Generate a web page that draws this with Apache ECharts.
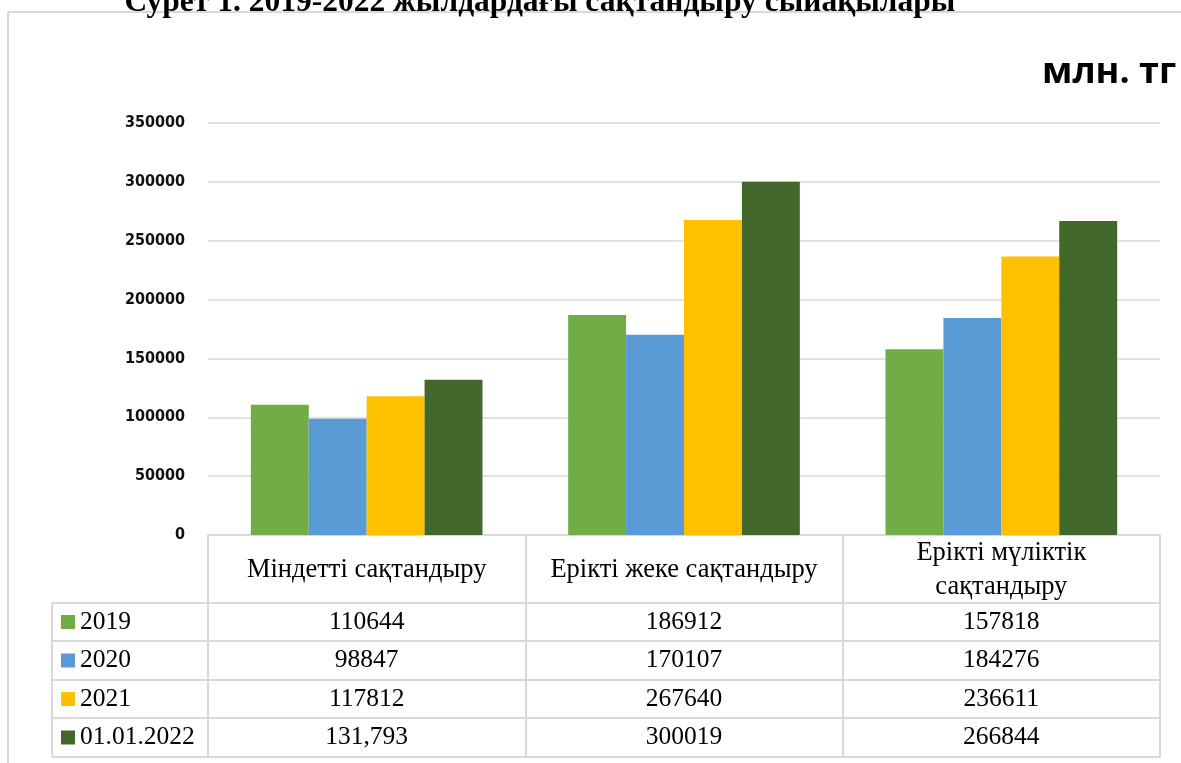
<!DOCTYPE html>
<html><head><meta charset="utf-8">
<script src="https://cdn.jsdelivr.net/npm/echarts@6/dist/echarts.min.js"></script>
<style>html,body{margin:0;padding:0;background:#fff}#c{width:1181px;height:763px}</style>
</head><body><div id="c"></div>
<script>
// ---- data ----
const categories = ['Міндетті сақтандыру', 'Ерікті жеке сақтандыру', 'Ерікті мүліктік сақтандыру'];
const seriesNames = ['2019', '2020', '2021', '01.01.2022'];
const v2019 = [110644, 186912, 157818];
const v2020 = [98847, 170107, 184276];
const v2021 = [117812, 267640, 236611];
const v2022 = [131793, 300019, 266844];
const yMin = 0, yMax = 350000, yStep = 50000;
// cells printed with a thousands separator in the source table [row, col]
const commaCells = [[3, 0]];
const titleText = 'Сурет 1. 2019-2022 жылдардағы сақтандыру сыйақылары';
const unitText = 'млн. тг';

// ---- styling / layout ----
const values = [v2019, v2020, v2021, v2022];
const colors = ['#70AD47', '#5B9BD5', '#FFC000', '#43682B'];
const lineCol = '#d9d9d9';
const serif = "'Liberation Serif','Times New Roman',serif";
const narrow = "'Liberation Sans Narrow','DejaVu Sans Condensed',sans-serif";
const tableFontSize = 25.5;
const headerFontSize = 26.5;
const axisY = 535;              // pixel y of the x axis
const rowTops = [603, 641, 680, 718];
const tableBottom = 757;
const legendLeftEdge = 52, gridLeft = 208;

const measureCtx = document.createElement('canvas').getContext('2d');
measureCtx.font = headerFontSize + 'px ' + serif;
function headerLabel(v) {
  return measureCtx.measureText(v).width > 300 ? v.replace(/ (\S+)$/, '\n$1') : v;
}
function cellText(r, c) {
  const v = values[r][c];
  const comma = commaCells.some(p => p[0] === r && p[1] === c);
  return comma ? v.toLocaleString('en-US') : String(v);
}

const xAxes = [{
  type: 'category', data: categories, position: 'bottom',
  axisLine: {lineStyle: {color: lineCol, width: 2}},
  axisTick: {show: true, interval: 0, length: rowTops[0] - axisY, lineStyle: {color: lineCol, width: 2}},
  axisLabel: {interval: 0, margin: (rowTops[0] - axisY) / 2 + 1, verticalAlign: 'middle', overflow: 'none',
    fontFamily: serif, fontSize: headerFontSize, color: '#000', lineHeight: 34, formatter: headerLabel},
  splitLine: {show: false}
}];
rowTops.forEach((top, r) => {
  const bottom = r < rowTops.length - 1 ? rowTops[r + 1] : tableBottom;
  const h = bottom - top;
  xAxes.push({
    type: 'category', data: categories, position: 'bottom', offset: top - axisY,
    axisLine: {lineStyle: {color: lineCol, width: 2}},
    axisTick: {show: true, interval: 0, length: h, lineStyle: {color: lineCol, width: 2}},
    axisLabel: {interval: 0, margin: h / 2, verticalAlign: 'middle', fontFamily: serif, fontSize: tableFontSize,
      color: '#000', formatter: (val, idx) => cellText(r, idx)},
    splitLine: {show: false}
  });
});
xAxes.push({
  type: 'category', data: categories, position: 'bottom', offset: tableBottom - axisY,
  axisLine: {lineStyle: {color: lineCol, width: 2}}, axisTick: {show: false}, axisLabel: {show: false},
  splitLine: {show: false}
});

const legends = seriesNames.map((n, r) => {
  const bottom = r < rowTops.length - 1 ? rowTops[r + 1] : tableBottom;
  const mid = (rowTops[r] + bottom) / 2;
  return {
    data: [n], left: 61, top: mid - 14, orient: 'horizontal', padding: 0, itemGap: 0,
    icon: 'rect', itemWidth: 14, itemHeight: 14, selectedMode: false,
    textStyle: {fontFamily: serif, fontSize: tableFontSize, color: '#000', lineHeight: 28, padding: 0}
  };
});

const graphics = [
  {type: 'line', shape: {x1: 8, y1: 12, x2: 8, y2: 763}, style: {stroke: lineCol, lineWidth: 2}},
  {type: 'line', shape: {x1: 8, y1: 12, x2: 1181, y2: 12}, style: {stroke: lineCol, lineWidth: 2}},
  {type: 'text', x: 540, y: 19, style: {text: titleText, align: 'center', verticalAlign: 'bottom',
    font: "bold 31.5px 'Liberation Serif','Times New Roman',serif", fill: '#000'}},
  {type: 'text', x: 1042, y: 73, style: {text: unitText, align: 'left', verticalAlign: 'middle',
    font: "bold 36px 'Open Sans',sans-serif", fill: '#000'}},
  {type: 'line', shape: {x1: legendLeftEdge, y1: rowTops[0], x2: legendLeftEdge, y2: tableBottom},
    style: {stroke: lineCol, lineWidth: 2}}
];
rowTops.concat([tableBottom]).forEach(y => {
  graphics.push({type: 'line', shape: {x1: legendLeftEdge, y1: y, x2: gridLeft, y2: y},
    style: {stroke: lineCol, lineWidth: 2}});
});

const chart = echarts.init(document.getElementById('c'), null, {renderer: 'canvas'});
chart.setOption({
  animation: false,
  backgroundColor: '#fff',
  color: colors,
  grid: {left: gridLeft, right: 21, top: 123, bottom: 763 - axisY, containLabel: false},
  legend: legends,
  xAxis: xAxes,
  yAxis: {
    type: 'value', min: yMin, max: yMax, interval: yStep,
    axisLine: {show: false}, axisTick: {show: false},
    axisLabel: {margin: 23, fontFamily: narrow, fontSize: 16, fontWeight: 'bold', color: '#111',
      formatter: v => String(v)},
    splitLine: {lineStyle: {color: lineCol, width: 1.5}}
  },
  series: seriesNames.map((n, i) => ({
    name: n, type: 'bar', data: values[i], xAxisIndex: 0,
    barGap: '0%', barCategoryGap: '27%',
    itemStyle: {color: colors[i]}
  })),
  graphic: graphics
});
</script></body></html>
